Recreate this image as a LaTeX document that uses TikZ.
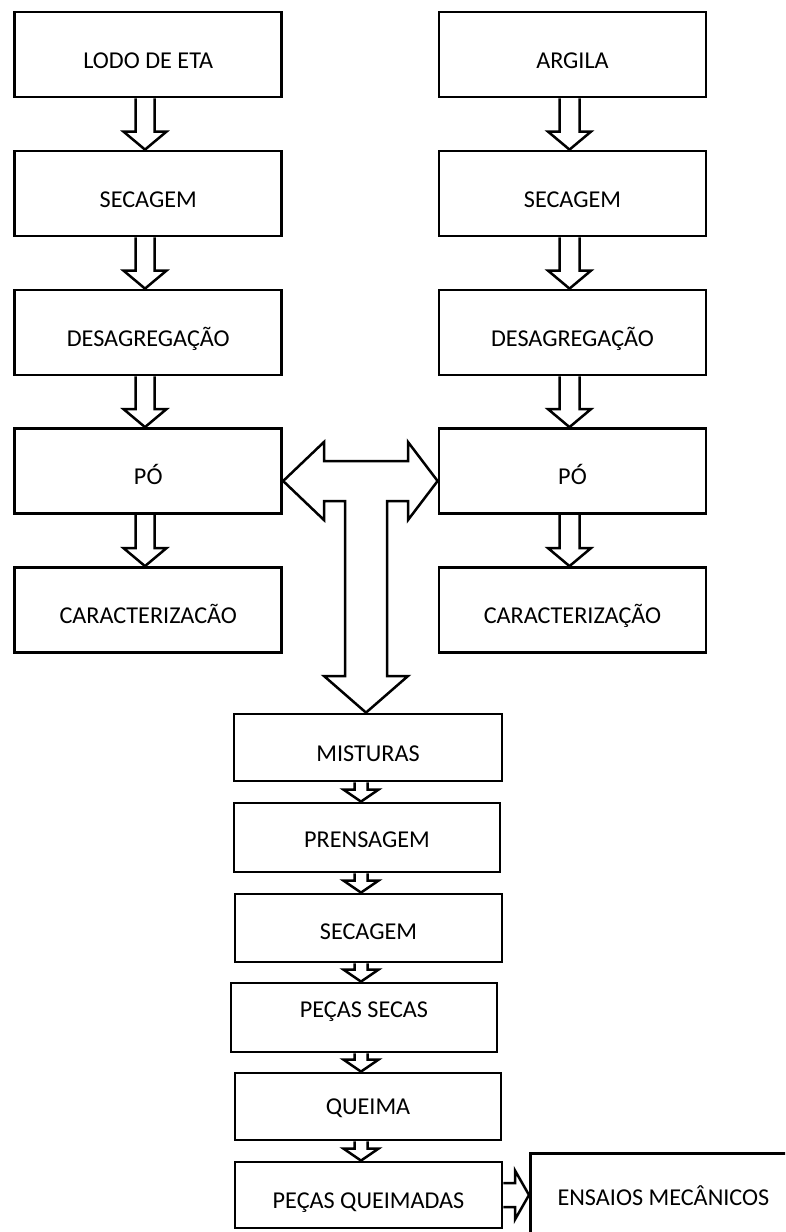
\documentclass[tikz,border=0pt]{standalone}
\usepackage{fontspec}
\setmainfont{Carlito}
\usetikzlibrary{calc}

\tikzset{
  procbox/.style={draw, line width=2.8pt, inner sep=0pt, minimum width=267pt,
    text height=56pt, text depth=29pt, font=\fontsize{24.2}{28}\selectfont},
  stepbox/.style={procbox, text height=45pt, text depth=22pt},
  fatline/.style={draw, line width=2.5pt, line join=miter},
}

% hollow block arrow: from, to, axis, shaft half width, head half width, head length
\newcommand{\hollowdown}[6]{%
  \draw[fatline] ($(#1.south -| #3)+(-#4,0)$) -- ($(#2.north -| #3)+(-#4,-#6)$)
    -- ($(#2.north -| #3)+(-#5,-#6)$) -- (#2.north -| #3)
    -- ($(#2.north -| #3)+(#5,-#6)$) -- ($(#2.north -| #3)+(#4,-#6)$)
    -- ($(#1.south -| #3)+(#4,0)$);}

\begin{document}
\begin{tikzpicture}[x=1pt,y=-1pt]
    \useasboundingbox (0,0) rectangle (785,1232);
    \clip (0,0) rectangle (785,1232);

    \coordinate (lx) at (145,0);
    \coordinate (rx) at (569.5,0);
    \coordinate (mx) at (361,0);
    \coordinate (tj) at (366,481);

    % lodo column
    \node[procbox] (lodo) at (148.25,54.5) {LODO DE ETA};
    \node[procbox] (secL) at (148.25,193.5) {SECAGEM};
    \node[procbox] (desL) at (148.25,332.5) {DESAGREGAÇÃO};
    \node[procbox] (poL) at (148.25,471) {PÓ};
    \node[procbox] (carL) at (148.25,610) {CARACTERIZACÃO};

    % argila column
    \node[procbox] (argila) at (572.5,54.5) {ARGILA};
    \node[procbox] (secR) at (572.5,193.5) {SECAGEM};
    \node[procbox] (desR) at (572.5,332.5) {DESAGREGAÇÃO};
    \node[procbox] (poR) at (572.5,471) {PÓ};
    \node[procbox] (carR) at (572.5,610) {CARACTERIZAÇÃO};

    % pecas
    \node[stepbox, minimum width=268pt, text height=47pt, text depth=20pt] (mist) at (368,747.5) {MISTURAS};
    \node[stepbox, minimum width=266pt, text height=44pt, text depth=25pt] (prens) at (367,837.5) {PRENSAGEM};
    \node[stepbox, text height=45pt, text depth=23pt] (secM) at (368.5,928) {SECAGEM};
    \node[stepbox, minimum width=266pt, text height=34pt, text depth=35pt] (secas) at (364,1017.5) {PEÇAS SECAS};
    \node[stepbox, minimum width=266pt, text height=41pt, text depth=26pt] (queima) at (368,1106.5) {QUEIMA};
    \node[stepbox, text height=46pt, text depth=20pt] (queimadas) at (368.5,1195) {PEÇAS QUEIMADAS};
    \node[stepbox, minimum width=266pt, text height=52pt, text depth=34pt, anchor=north west] (ensaios) at (529,1152) {ENSAIOS MECÂNICOS};

    \foreach \a/\b in {lodo/secL, secL/desL, desL/poL, poL/carL}
        {\hollowdown{\a}{\b}{lx}{9.5}{21.5}{18}}
    \foreach \a/\b in {argila/secR, secR/desR, desR/poR, poR/carR}
        {\hollowdown{\a}{\b}{rx}{10}{21.5}{18}}
    \foreach \a/\b in {mist/prens, prens/secM, secM/secas, secas/queima, queima/queimadas}
        {\hollowdown{\a}{\b}{mx}{6.5}{17.5}{12}}

    % T arrow from both powders to the mixtures
    \draw[fatline] (poL.east |- tj) -- (324,442) -- (324,461) -- (408,461) -- (408,442)
        -- (poR.west |- tj) -- (408,520) -- (408,501) -- (387,501) -- (387,676)
        -- (408,676) -- (mist.north -| tj) -- (324,676) -- (345,676) -- (345,501)
        -- (324,501) -- (324,520) -- cycle;

    \draw[fatline] ($(queimadas.east)+(0,-12)$) -- ($(ensaios.west |- queimadas.east)+(-14,-12)$)
        -- ($(ensaios.west |- queimadas.east)+(-14,-24.5)$) -- (ensaios.west |- queimadas.east)
        -- ($(ensaios.west |- queimadas.east)+(-14,24.5)$) -- ($(ensaios.west |- queimadas.east)+(-14,12)$)
        -- ($(queimadas.east)+(0,12)$);
\end{tikzpicture}
\end{document}
